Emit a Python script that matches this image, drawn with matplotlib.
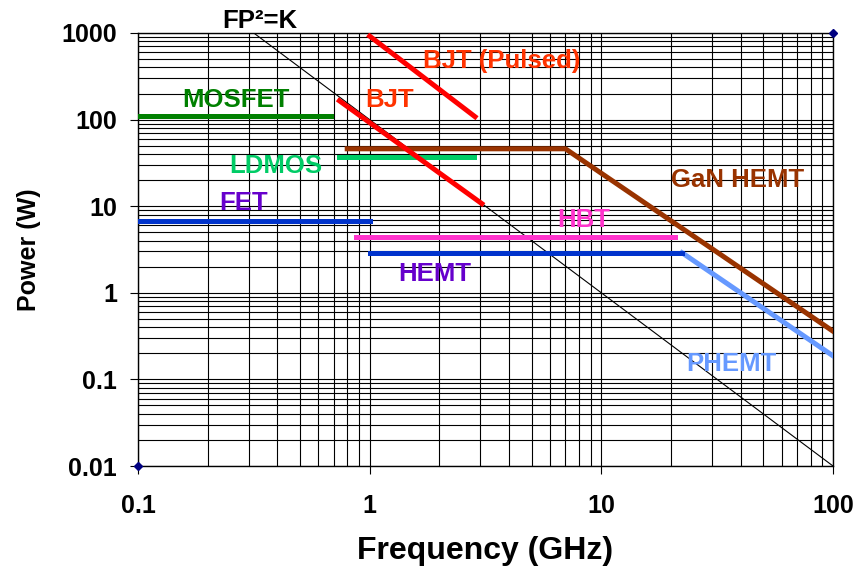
import matplotlib
matplotlib.use("Agg")
import matplotlib.pyplot as plt
from matplotlib.ticker import FixedLocator, FixedFormatter, LogLocator, NullFormatter

plt.rcParams["font.family"] = ["Liberation Sans", "DejaVu Sans"]
plt.rcParams["font.weight"] = "bold"

# Device technology limits: (frequency in GHz, power in W)
mosfet_f = [0.1, 0.68]
mosfet_p = [110, 110]
ldmos_f = [0.74, 2.83]
ldmos_p = [37, 37]
fet_f = [0.1, 1.0]
fet_p = [6.8, 6.8]
bjt_f = [0.74, 3.05]
bjt_p = [165, 10.7]
bjt_pulsed_f = [1.0, 2.85]
bjt_pulsed_p = [920, 108]
gan_f = [0.8, 7.0, 100]
gan_p = [46, 46, 0.36]
hbt_f = [0.87, 20.8]
hbt_p = [4.4, 4.4]
hemt_f = [1.0, 22.3]
hemt_p = [2.9, 2.9]
phemt_f = [22.3, 100]
phemt_p = [2.9, 0.187]

# FP^2 = K reference line
k_f = [0.316, 100]
k_p = [1000, 0.01]

# corner markers
corner_f = [0.1, 100]
corner_p = [0.01, 1000]

x_ticks = [0.1, 1, 10, 100]
x_labels = ["0.1", "1", "10", "100"]
y_ticks = [0.01, 0.1, 1, 10, 100, 1000]
y_labels = ["0.01", "0.1", "1", "10", "100", "1000"]

fig = plt.figure(figsize=(8.6, 5.69), dpi=100)
ax = fig.add_axes([138 / 860, 1 - 466 / 569, 695 / 860, 433 / 569])
ax.set_xscale("log")
ax.set_yscale("log")
ax.set_xlim(0.1, 100)
ax.set_ylim(0.01, 1000)

ax.xaxis.set_major_locator(FixedLocator(x_ticks))
ax.xaxis.set_major_formatter(FixedFormatter(x_labels))
ax.yaxis.set_major_locator(FixedLocator(y_ticks))
ax.yaxis.set_major_formatter(FixedFormatter(y_labels))
ax.xaxis.set_minor_locator(LogLocator(base=10, subs=range(2, 10)))
ax.yaxis.set_minor_locator(LogLocator(base=10, subs=range(2, 10)))
ax.xaxis.set_minor_formatter(NullFormatter())
ax.yaxis.set_minor_formatter(NullFormatter())

ax.grid(True, which="both", color="black", linewidth=0.8)
ax.set_axisbelow(True)
ax.tick_params(which="major", direction="out", length=6, width=0.8,
               labelsize=18, pad=9, top=False, right=False)
ax.tick_params(axis="x", which="major", pad=14)
ax.tick_params(which="minor", length=0)
for s in ax.spines.values():
    s.set_color("black")
    s.set_linewidth(1)

for lbl in ax.get_xticklabels() + ax.get_yticklabels():
    lbl.set_fontweight("bold")

ax.set_xlabel("Frequency (GHz)", fontsize=23, fontweight="bold", labelpad=13)
ax.set_ylabel("Power (W)", fontsize=18, fontweight="bold", labelpad=15)

lw = 3.6
ax.plot(k_f, k_p, color="black", linewidth=0.8, zorder=3)
ax.plot(mosfet_f, mosfet_p, color="#008000", linewidth=lw, zorder=4)
ax.plot(ldmos_f, ldmos_p, color="#00CC66", linewidth=lw, zorder=4)
ax.plot(fet_f, fet_p, color="#0033CC", linewidth=lw, zorder=4)
ax.plot(gan_f, gan_p, color="#993300", linewidth=lw, zorder=4)
ax.plot(bjt_f, bjt_p, color="#FF0000", linewidth=lw, zorder=5)
ax.plot(bjt_pulsed_f, bjt_pulsed_p, color="#FF0000", linewidth=lw, zorder=5)
ax.plot(hbt_f, hbt_p, color="#FF33CC", linewidth=lw, zorder=4)
ax.plot(phemt_f, phemt_p, color="#6699FF", linewidth=lw, zorder=4)
ax.plot(hemt_f, hemt_p, color="#0033CC", linewidth=lw, zorder=4)
ax.plot(corner_f, corner_p, linestyle="none", marker="D", markersize=4,
        color="#000080", clip_on=False, zorder=6)

labels = [
    ("FP\u00b2=K", 0.337, 1452, "black"),
    ("BJT (Pulsed)", 3.73, 501, "#FF3300"),
    ("MOSFET", 0.265, 178, "#008000"),
    ("BJT", 1.22, 178, "#FF3300"),
    ("LDMOS", 0.395, 31.5, "#00CC66"),
    ("FET", 0.286, 11.6, "#6600CC"),
    ("HBT", 8.42, 7.41, "#FF33CC"),
    ("HEMT", 1.91, 1.74, "#6600CC"),
    ("GaN HEMT", 38.7, 21.2, "#993300"),
    ("PHEMT", 36.3, 0.159, "#6699FF"),
]
for text, x, y, c in labels:
    ax.text(x, y, text, color=c, fontsize=18.5, fontweight="bold",
            ha="center", va="center_baseline", clip_on=False, zorder=7)

fig.savefig("out.png", dpi=100, facecolor="white")
